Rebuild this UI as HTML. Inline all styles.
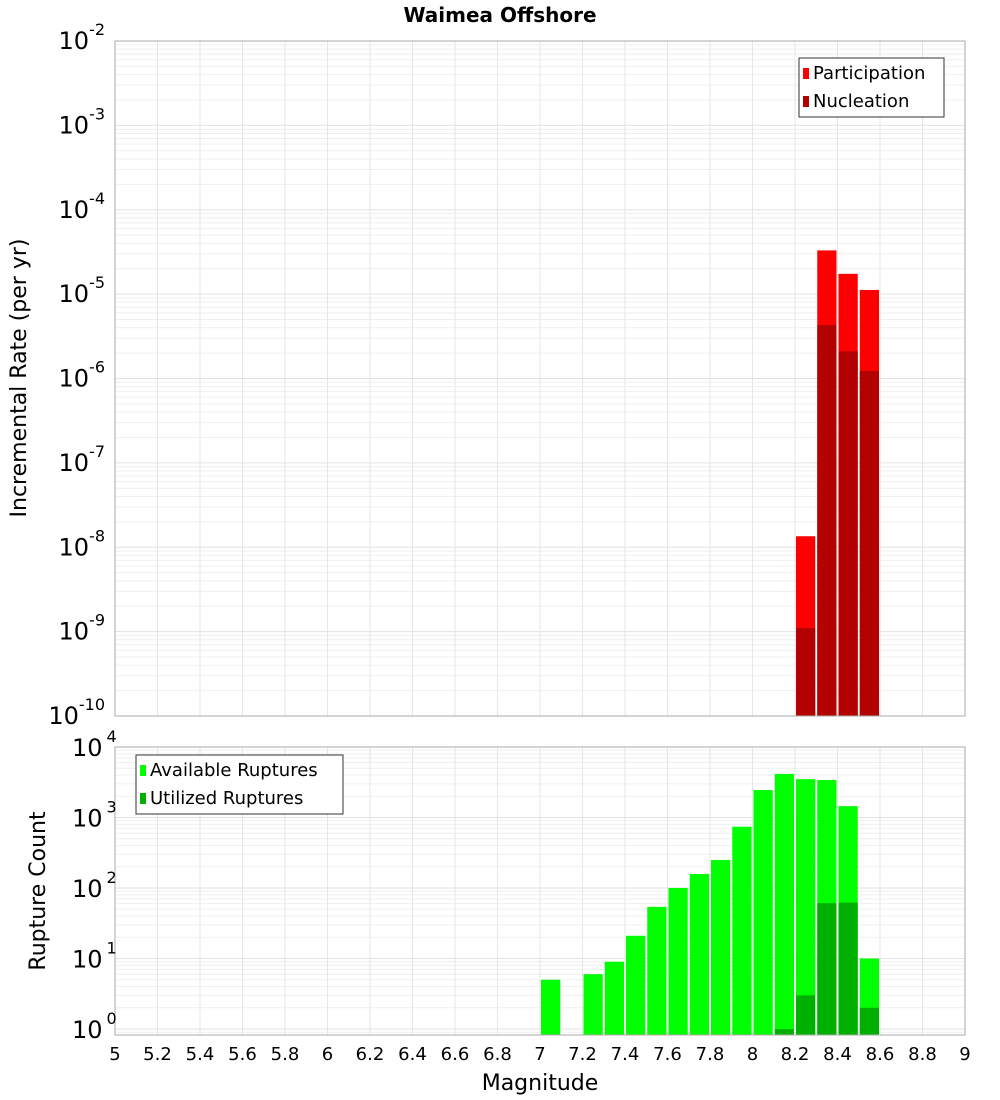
<!DOCTYPE html>
<html><head><meta charset="utf-8"><style>
body{margin:0;background:#fff;}
svg{display:block;font-family:"DejaVu Sans","Liberation Sans",sans-serif;}
</style></head><body>
<svg id="c" width="1000" height="1100"></svg>
<script>
const mags=[7.0,7.1,7.2,7.3,7.4,7.5,7.6,7.7,7.8,7.9,8.0,8.1,8.2,8.3,8.4,8.5];
const available=[5,0,6,9,21,54,100,158,250,740,2450,4150,3500,3400,1450,10];
const utilized=[0,0,0,0,0,0,0,0,0,0,0,1,3,61,62,2];
const rateMags=[8.2,8.3,8.4,8.5];
const participation=[1.35e-8,3.3e-5,1.74e-5,1.12e-5];
const nucleation=[1.1e-9,4.3e-6,2.1e-6,1.23e-6];
const xTicks=["5","5.2","5.4","5.6","5.8","6","6.2","6.4","6.6","6.8","7","7.2","7.4","7.6","7.8","8","8.2","8.4","8.6","8.8","9"];
const topExp=[-2,-3,-4,-5,-6,-7,-8,-9,-10];
const botExp=[4,3,2,1,0];

const NS="http://www.w3.org/2000/svg";
const svg=document.getElementById('c');
function mk(t,a,p,txt){const e=document.createElementNS(NS,t);for(const k in a)e.setAttribute(k,a[k]);if(txt!==undefined)e.textContent=txt;(p||svg).appendChild(e);return e;}
const L=115,R=965;
const x=v=>L+(v-5)*(R-L)/4;
const T1=41,B1=716;
const yTop=v=>T1+(-2-Math.log10(v))*(B1-T1)/8;
const T2=747,B2=1035,D2=70.5,Z2=1029;
const yBot=v=>Z2-Math.log10(v)*D2;

// grids
function grid(top,bot,yf,lo,hi,name){
  const g=mk('g',{});
  
  
  for(let e=lo;e<hi;e++)for(let m=1;m<10;m++){const v=m*Math.pow(10,e);const yy=yf(v);if(yy<top||yy>bot)continue;
    mk('line',{x1:L,x2:R,y1:yy,y2:yy,stroke:m==1?'#e2e2e2':'#efefef','stroke-width':1},g);}
  for(let i=0;i<=20;i++){const xx=x(5+i*0.2);mk('line',{x1:xx,x2:xx,y1:top,y2:bot,stroke:'#e6e6e6','stroke-width':1},g);}
}
grid(T1,B1,yTop,-10,-2,'top-grid');
grid(T2,B2,yBot,-1,4,'bottom-grid');

// top bars
const tb=mk('g',{});
rateMags.forEach((m,i)=>{
  let r=mk('rect',{x:x(m)+1,y:yTop(participation[i]),width:x(m+0.1)-x(m)-2,height:B1-yTop(participation[i]),fill:'#ff0000'},tb);
  
  r=mk('rect',{x:x(m)+1,y:yTop(nucleation[i]),width:x(m+0.1)-x(m)-2,height:B1-yTop(nucleation[i]),fill:'#b30000'},tb);
  
});
// bottom bars
const bb=mk('g',{});
mags.forEach((m,i)=>{
  if(available[i]>0){const yy=Math.max(T2,yBot(available[i]));
    const r=mk('rect',{x:x(m)+1,y:yy,width:x(m+0.1)-x(m)-2,height:B2-yy,fill:'#00ff00'},bb);
    }
  if(utilized[i]>0){const yy=yBot(utilized[i]);
    const r=mk('rect',{x:x(m)+1,y:yy,width:x(m+0.1)-x(m)-2,height:B2-yy,fill:'#00b000'},bb);
    }
});
// frames
let f=mk('rect',{x:L,y:T1,width:R-L,height:B1-T1,fill:'none',stroke:'#aaa'});
f=mk('rect',{x:L,y:T2,width:R-L,height:B2-T2,fill:'none',stroke:'#aaa'});

// y tick labels
topExp.forEach(e=>{const yy=yTop(Math.pow(10,e));
  const t=mk('text',{x:105,y:yy+8,'text-anchor':'end','font-size':24});
  
  mk('tspan',{},t,'10');mk('tspan',{dy:-14,'font-size':16},t,String(e));});
botExp.forEach(e=>{const yy=yBot(Math.pow(10,e));
  const t=mk('text',{x:72,y:yy+9,'font-size':24});
  
  mk('tspan',{},t,'10');mk('tspan',{dx:4,dy:-14,'font-size':16},t,String(e));});
xTicks.forEach(s=>{const t=mk('text',{x:x(parseFloat(s)),y:1060,'text-anchor':'middle','font-size':18},null,s);
  });

// titles
let t=mk('text',{x:500,y:22,'text-anchor':'middle','font-size':20,'font-weight':'bold'},null,'Waimea Offshore');
t=mk('text',{x:540,y:1090,'text-anchor':'middle','font-size':22},null,'Magnitude');
t=mk('text',{x:0,y:0,'text-anchor':'middle','font-size':22,transform:'translate(26,378) rotate(-90)'},null,'Incremental Rate (per yr)');
t=mk('text',{x:0,y:0,'text-anchor':'middle','font-size':22,transform:'translate(45,891) rotate(-90)'},null,'Rupture Count');

// legends
function legend(x0,y0,w,items,name){
  const g=mk('g',{});
  mk('rect',{x:x0,y:y0,width:w,height:59,fill:'#fff',stroke:'#333'},g);
  items.forEach((it,i)=>{
    const e=mk('g',{},g);
    mk('rect',{x:x0+4,y:y0+10+i*28,width:6,height:11,fill:it[1]},e);
    mk('text',{x:x0+14,y:y0+21+i*28,'font-size':18},e,it[0]);
  });
}
legend(799,58,145,[['Participation','#ff0000'],['Nucleation','#b30000']],'rate-legend');
legend(136,755,207,[['Available Ruptures','#00ff00'],['Utilized Ruptures','#00b000']],'rupture-legend');
</script>
</body></html>
